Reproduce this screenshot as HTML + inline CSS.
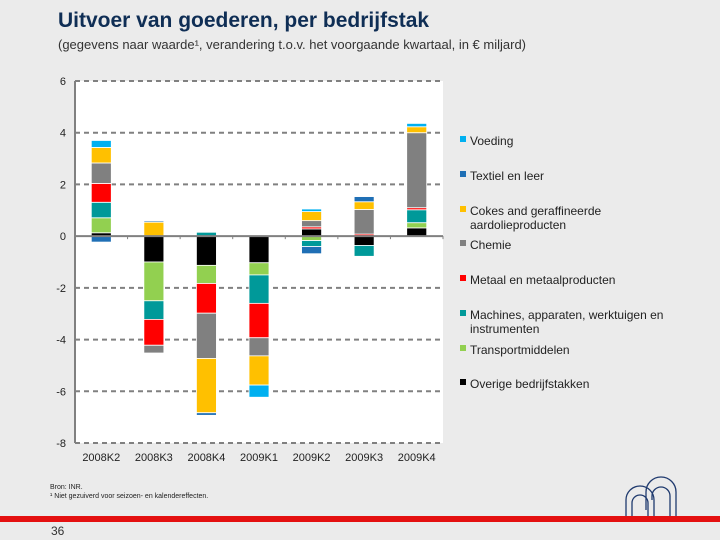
<!DOCTYPE html>
<html><head><meta charset="utf-8"><style>
body{margin:0;background:#ebebeb;font-family:"Liberation Sans",sans-serif;}
#wrap{position:relative;width:720px;height:540px;overflow:hidden;background:#ebebeb}
.t{position:absolute;white-space:nowrap}
</style></head><body>
<div id="wrap">
<div class="t" style="left:58px;top:9px;font-size:21px;font-weight:bold;color:#0f2e55">Uitvoer van goederen, per bedrijfstak</div>
<div class="t" style="left:58px;top:37px;font-size:13px;color:#333">(gegevens naar waarde¹, verandering t.o.v. het voorgaande kwartaal, in € miljard)</div>
<svg id="chart" width="720" height="540" style="position:absolute;left:0;top:0"></svg>
<div class="t" style="left:50px;top:483px;font-size:7px;color:#222;line-height:9px">Bron: INR.<br>¹ Niet gezuiverd voor seizoen- en kalendereffecten.</div>
<div style="position:absolute;left:0;top:516px;width:720px;height:6px;background:#e41010"></div>
<div class="t" style="left:51px;top:524px;font-size:12px;color:#333">36</div>
<svg width="70" height="50" style="position:absolute;left:620px;top:470px">
<g fill="none" stroke="#1f3a6e" stroke-width="1.3">
<path d="M6 46 V30 a14 14 0 0 1 28 0 V46"/><path d="M12 46 V33 a8 8 0 0 1 16 0 V46"/>
<path d="M26 40 V22 a15 15 0 0 1 30 0 V46"/><path d="M32 30 V26 a9 9 0 0 1 18 0 V46"/>
</g></svg>
</div>
<script>
const categories=["2008K2","2008K3","2008K4","2009K1","2009K2","2009K3","2009K4"];
const seriesNames=["Overige bedrijfstakken","Transportmiddelen","Machines, apparaten, werktuigen en instrumenten","Metaal en metaalproducten","Chemie","Cokes and geraffineerde aardolieproducten","Textiel en leer","Voeding"];
const overige=[0.13,-1.0,-1.13,-1.03,0.28,-0.36,0.32];
const transport=[0.58,-1.5,-0.7,-0.47,-0.17,0,0.2];
const machines=[0.6,-0.72,0.15,-1.1,-0.23,-0.42,0.5];
const metaal=[0.73,-1.0,-1.15,-1.33,0.08,0.08,0.08];
const chemie=[0.79,-0.3,-1.75,-0.7,0.24,0.95,2.9];
const cokes=[0.6,0.54,-2.1,-1.13,0.35,0.3,0.23];
const textiel=[-0.23,0.05,-0.1,0,-0.28,0.2,-0.03];
const voeding=[0.27,0,0,-0.47,0.1,0,0.13];
const yTicks=[6,4,2,0,-2,-4,-6,-8];
const colors=["#000000","#92d050","#009999","#ff0000","#808080","#ffc000","#1f6fb5","#00b0f0"];
const legendOrder=[7,6,5,4,3,2,1,0];
const legendLabels=[["Voeding"],["Textiel en leer"],["Cokes and geraffineerde","aardolieproducten"],["Chemie"],["Metaal en metaalproducten"],["Machines, apparaten, werktuigen en","instrumenten"],["Transportmiddelen"],["Overige bedrijfstakken"]];
const legendY=[140,175,210,244,279,314,349,383];

const svg=document.getElementById('chart');
const NS="http://www.w3.org/2000/svg";
const L=75,R=443,T=81,B=443,yMin=-8,yMax=6;
const y=v=>T+(yMax-v)/(yMax-yMin)*(B-T);
const bw=(R-L)/categories.length;
const x=i=>L+bw*(i+0.5);
function mk(tag,a){const e=document.createElementNS(NS,tag);for(const k in a)e.setAttribute(k,a[k]);svg.appendChild(e);return e;}
const plot=mk('rect',{x:L,y:T,width:R-L,height:B-T,fill:'#fff'});


yTicks.forEach(v=>{
  if(v!==0){const g=mk('line',{x1:L,x2:R,y1:y(v),y2:y(v),stroke:'#808080','stroke-width':2,'stroke-dasharray':'5,4'});
  
  }
  const t=mk('text',{x:L-9,y:y(v)+4,'text-anchor':'end','font-size':11,fill:'#222'});t.textContent=v;
  
  
});
const series=[overige,transport,machines,metaal,chemie,cokes,textiel,voeding];
categories.forEach((c,i)=>{
  let pos=0,neg=0;
  series.forEach((s,k)=>{
    const v=s[i];if(!v)return;
    let y0,y1;
    if(v>0){y0=pos;pos+=v;y1=pos;}else{y0=neg;neg+=v;y1=neg;}
    const r=mk('rect',{x:x(i)-10,y:Math.min(y(y0),y(y1)),width:20,height:Math.abs(y(y0)-y(y1)),fill:colors[k],stroke:'#fff','stroke-width':0.8});
    
    
  });
  const t=mk('text',{x:x(i),y:B+18,'text-anchor':'middle','font-size':11,fill:'#222'});t.textContent=c;
  
  
  const tk=mk('line',{x1:L+bw*(i+1),x2:L+bw*(i+1),y1:y(0),y2:y(0)+3,stroke:'#808080'});
  
  
});
const zl=mk('line',{x1:L,x2:R,y1:y(0),y2:y(0),stroke:'#808080','stroke-width':2});


const ya=mk('line',{x1:L,x2:L,y1:T,y2:B,stroke:'#808080','stroke-width':2});


legendOrder.forEach((k,j)=>{
  const r=mk('rect',{x:460,y:legendY[j]-4,width:6,height:6,fill:colors[k]});
  
  
  legendLabels[j].forEach((ln,m)=>{
    const t=mk('text',{x:470,y:legendY[j]+5+m*14,'font-size':12,fill:'#222'});t.textContent=ln;
    
    
  });
});
</script>
</body></html>
